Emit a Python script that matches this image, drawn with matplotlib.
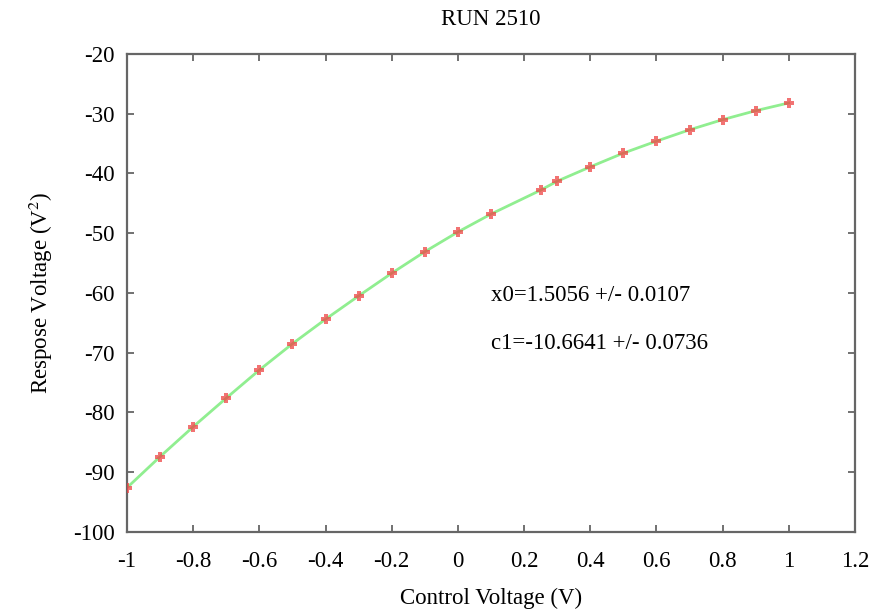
import matplotlib
matplotlib.use("Agg")
import matplotlib.pyplot as plt

control_v = [-1.0, -0.9, -0.8, -0.7, -0.6, -0.5, -0.4, -0.3, -0.2, -0.1, 0.0,
             0.1, 0.25, 0.3, 0.4, 0.5, 0.6, 0.7, 0.8, 0.9, 1.0]
response_v = [-92.6, -87.4, -82.4, -77.6, -72.9, -68.5, -64.4, -60.5, -56.7, -53.1, -49.8,
              -46.8, -42.8, -41.3, -38.9, -36.6, -34.6, -32.7, -31.0, -29.5, -28.2]

x_ticks = [-1, -0.8, -0.6, -0.4, -0.2, 0, 0.2, 0.4, 0.6, 0.8, 1, 1.2]
x_labels = ["-1", "-0.8", "-0.6", "-0.4", "-0.2", "0", "0.2", "0.4", "0.6", "0.8", "1", "1.2"]
y_ticks = [-100, -90, -80, -70, -60, -50, -40, -30, -20]

fit_text = ["x0=1.5056 +/- 0.0107", "c1=-10.6641 +/- 0.0736"]

plt.rcParams["font.family"] = ["Liberation Serif", "DejaVu Serif"]
plt.rcParams["mathtext.fontset"] = "stix"
plt.rcParams["axes.unicode_minus"] = False

fig = plt.figure(figsize=(8.79, 6.10), dpi=100)
ax = fig.add_axes([0.1445, 0.128, 0.8282, 0.7836])

ax.plot(control_v, response_v, color="#90ee90", lw=2, zorder=2)
ax.plot(control_v, response_v, linestyle="none", marker="P", markersize=7.5,
        color="#ee4444", alpha=0.75, markeredgewidth=0, zorder=3)

ax.set_xlim(-1, 1.2)
ax.set_ylim(-100, -20)
ax.set_xticks(x_ticks)
ax.set_xticklabels(x_labels)
ax.set_yticks(y_ticks)

ax.tick_params(direction="in", length=5, width=1.3, color="#666666",
               top=True, right=True, labelsize=16.5, pad=9)
ax.tick_params(axis="x", pad=14)
for side in ax.spines.values():
    side.set_color("#666666")
    side.set_linewidth(1.6)

ax.set_title("RUN 2510", fontsize=16.5, pad=21)
ax.set_xlabel("Control Voltage (V)", fontsize=16.5, labelpad=11)
ax.set_ylabel("Respose Voltage (V$^2$)", fontsize=16.5, labelpad=13)

ax.text(0.1, -60.5, fit_text[0], fontsize=16.5, va="center")
ax.text(0.1, -68.4, fit_text[1], fontsize=16.5, va="center")

fig.savefig("out.png", dpi=100)
